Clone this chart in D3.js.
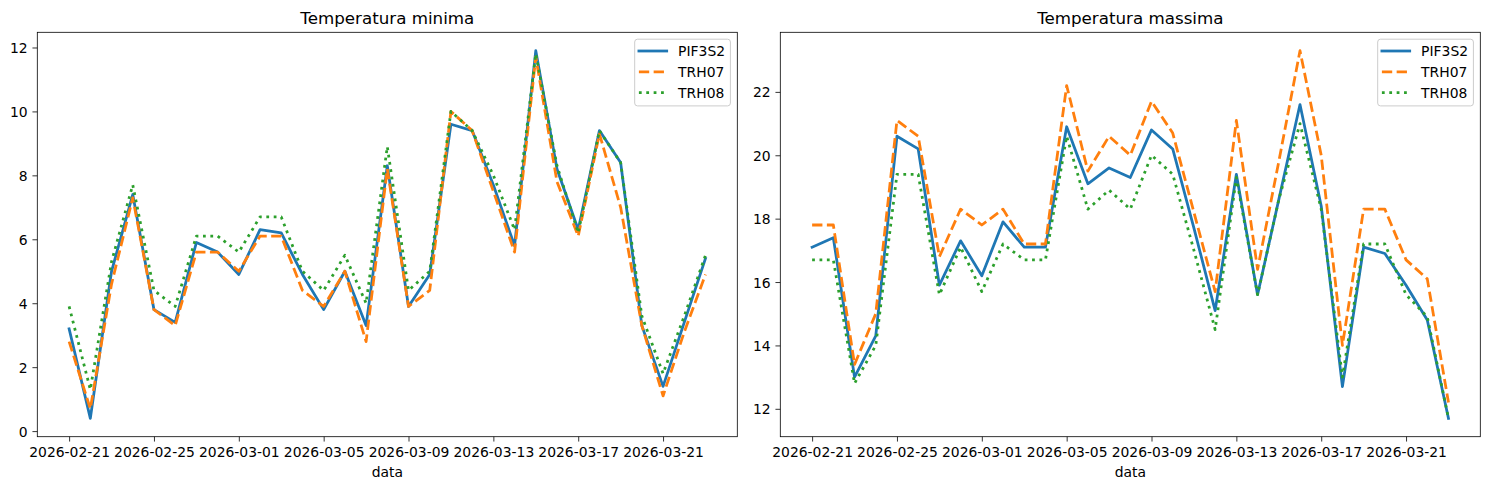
<!DOCTYPE html>
<html>
<head>
<meta charset="utf-8">
<script src="https://cdn.jsdelivr.net/npm/d3@7"></script>
<style>
  html, body { margin: 0; padding: 0; background: #fff; }
  svg { display: block; }
  text { font-family: "DejaVu Sans", sans-serif; fill: #000; }
</style>
</head>
<body>
<svg id="chart" width="1489" height="490"></svg>
<script>
// ---- data ----
const startDate = "2026-02-21";
const nDays = 31;
const seriesNames = ["PIF3S2", "TRH07", "TRH08"];
const seriesColors = ["#1f77b4", "#ff7f0e", "#2ca02c"];

const minPIF3S2 = [3.2, 0.4, 5.0, 7.4, 3.8, 3.4, 5.9, 5.6, 4.9, 6.3, 6.2, 4.9, 3.8, 5.0, 3.3, 8.3, 3.9, 4.9, 9.6, 9.4, 7.7, 5.8, 11.9, 8.2, 6.3, 9.4, 8.4, 3.3, 1.4, 3.4, 5.4];
const minTRH07  = [2.8, 0.7, 4.6, 7.3, 3.8, 3.3, 5.6, 5.6, 5.0, 6.1, 6.1, 4.4, 3.9, 5.0, 2.8, 8.2, 3.9, 4.4, 10.0, 9.4, 7.5, 5.6, 11.7, 7.8, 6.1, 9.3, 7.0, 3.3, 1.1, 3.1, 4.9];
const minTRH08  = [3.9, 1.3, 5.3, 7.7, 4.4, 3.9, 6.1, 6.1, 5.6, 6.7, 6.7, 5.0, 4.4, 5.5, 4.0, 8.9, 4.4, 5.0, 10.0, 9.4, 8.0, 6.3, 11.8, 8.3, 6.2, 9.4, 8.4, 3.6, 1.8, 3.6, 5.5];

const maxPIF3S2 = [17.1, 17.4, 13.0, 14.3, 20.6, 20.2, 15.9, 17.3, 16.2, 17.9, 17.1, 17.1, 20.9, 19.1, 19.6, 19.3, 20.8, 20.2, 17.7, 15.1, 19.4, 15.6, 18.6, 21.6, 18.4, 12.7, 17.1, 16.9, 15.9, 14.8, 11.7];
const maxTRH07  = [17.8, 17.8, 13.4, 15.0, 21.1, 20.6, 16.8, 18.3, 17.8, 18.3, 17.2, 17.2, 22.2, 19.5, 20.6, 20.0, 21.7, 20.7, 18.2, 15.7, 21.1, 16.4, 19.8, 23.3, 20.0, 14.0, 18.3, 18.3, 16.7, 16.1, 12.2];
const maxTRH08  = [16.7, 16.7, 12.8, 14.0, 19.4, 19.4, 15.6, 17.1, 15.7, 17.2, 16.7, 16.7, 20.6, 18.3, 18.9, 18.3, 20.0, 19.4, 17.0, 14.5, 19.3, 15.6, 18.6, 21.0, 18.3, 13.0, 17.2, 17.2, 15.6, 14.9, 11.7];

const xTickLabels = ["2026-02-21", "2026-02-25", "2026-03-01", "2026-03-05", "2026-03-09", "2026-03-13", "2026-03-17", "2026-03-21"];
const minYTicks = [0, 2, 4, 6, 8, 10, 12];
const maxYTicks = [12, 14, 16, 18, 20, 22];
const titles = ["Temperatura minima", "Temperatura massima"];
const xLabel = "data";

// ---- build ----
const parse = d3.utcParse("%Y-%m-%d");
const fmt = d3.utcFormat("%Y-%m-%d");
const d0 = parse(startDate);
const dates = d3.range(nDays).map(i => d3.utcDay.offset(d0, i));

const svg = d3.select("#chart");
const FS = 13.9;
const LW = 2.78;
const dashes = [null, "10.3,4.45", "2.78,4.6"];

function panel(left, right, top, bottom, title, seriesVals, yTicks) {
  const g = svg.append("g");
  const span = dates[nDays - 1] - dates[0];
  const x = d3.scaleUtc()
    .domain([new Date(+dates[0] - span * 0.05), new Date(+dates[nDays - 1] + span * 0.05)])
    .range([left, right]);
  const all = seriesVals.flat();
  const lo = d3.min(all), hi = d3.max(all), pad = (hi - lo) * 0.05;
  const y = d3.scaleLinear().domain([lo - pad, hi + pad]).range([bottom, top]);

  const clipId = "clip" + Math.round(left);
  svg.append("clipPath").attr("id", clipId).append("rect")
    .attr("x", left).attr("y", top).attr("width", right - left).attr("height", bottom - top);

  const line = d3.line().x((d, i) => x(dates[i])).y(d => y(d));
  seriesVals.forEach((vals, k) => {
    g.append("path")
      .attr("d", line(vals))
      .attr("fill", "none")
      .attr("stroke", seriesColors[k])
      .attr("stroke-width", LW)
      .attr("stroke-linejoin", "round")
      .attr("stroke-linecap", k === 0 ? "square" : "butt")
      .attr("stroke-dasharray", dashes[k])
      .attr("clip-path", `url(#${clipId})`);
  });

  // axes
  const xAxis = d3.axisBottom(x)
    .tickValues(xTickLabels.map(parse))
    .tickFormat(fmt)
    .tickSizeInner(4.86).tickSizeOuter(0).tickPadding(4.86);
  const gx = g.append("g").attr("transform", `translate(0,${bottom})`).call(xAxis);
  const yAxis = d3.axisLeft(y)
    .tickValues(yTicks)
    .tickFormat(d3.format("d"))
    .tickSizeInner(4.86).tickSizeOuter(0).tickPadding(4.86);
  const gy = g.append("g").attr("transform", `translate(${left},0)`).call(yAxis);
  [gx, gy].forEach(a => {
    a.select(".domain").remove();
    a.selectAll("line").attr("stroke", "#000").attr("stroke-width", 0.8);
    a.selectAll("text").attr("font-size", FS).attr("font-family", "DejaVu Sans").attr("fill", "#000");
  });
  gx.selectAll("text").attr("dy", null).attr("y", 4.86 + 4.86 + 10.3);
  gy.selectAll("text").attr("dy", "0.36em");

  // spines
  g.append("rect").attr("x", left).attr("y", top).attr("width", right - left).attr("height", bottom - top)
    .attr("fill", "none").attr("stroke", "#000").attr("stroke-width", 0.8);

  // title
  g.append("text").attr("x", (left + right) / 2).attr("y", top - 8.3)
    .attr("text-anchor", "middle").attr("font-size", 16.7).text(title);
  // xlabel
  g.append("text").attr("x", (left + right) / 2).attr("y", 476.5)
    .attr("text-anchor", "middle").attr("font-size", FS).text(xLabel);

  // legend
  const lw = 95.7, lh = 66.7;
  const lx = right - 6.9 - lw, ly = top + 6.9;
  const leg = g.append("g");
  leg.append("rect").attr("x", lx).attr("y", ly).attr("width", lw).attr("height", lh)
    .attr("rx", 2.8).attr("fill", "#fff").attr("fill-opacity", 0.8)
    .attr("stroke", "#cccccc").attr("stroke-width", 1);
  seriesNames.forEach((name, k) => {
    const cy = ly + 11.8 + k * 20.8;
    leg.append("line").attr("x1", lx + 4.2).attr("x2", lx + 4.2 + 27.8)
      .attr("y1", cy).attr("y2", cy)
      .attr("stroke", seriesColors[k]).attr("stroke-width", LW)
      .attr("stroke-linecap", k === 0 ? "square" : "butt")
      .attr("stroke-dasharray", dashes[k]);
    leg.append("text").attr("x", lx + 43.4).attr("y", cy).attr("dy", "0.36em")
      .attr("font-size", FS).text(name);
  });
}

panel(37.3, 737.3, 32.3, 436.7, titles[0], [minPIF3S2, minTRH07, minTRH08], minYTicks);
panel(780.3, 1480.3, 32.3, 436.7, titles[1], [maxPIF3S2, maxTRH07, maxTRH08], maxYTicks);
</script>
</body>
</html>
